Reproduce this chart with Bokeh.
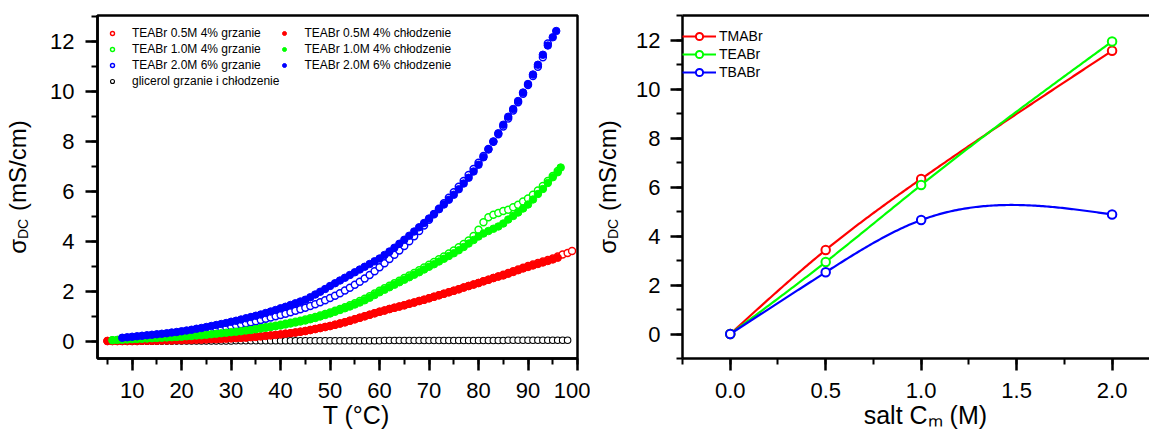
import numpy as np
from bokeh.plotting import figure
from bokeh.layouts import row
from bokeh.models import (Range1d, SingleIntervalTicker, FixedTicker, LinearAxis,
                          Legend, LegendItem, PrintfTickFormatter)
from bokeh.embed import file_html
from bokeh.resources import INLINE

FONT = "Liberation Sans"
RED, GREEN, BLUE, BLACK = "#ff0000", "#00ff00", "#0000ff", "#000000"
EM, EN, QU, SIX = "\u2003", "\u2002", "\u2005", "\u2006"

# ---------------- left panel data: sigma_DC (mS/cm) vs T (C) ----------------
T_GRID = [5, 6, 7, 8, 9, 10, 11, 12, 13, 14, 15, 16, 17, 18, 19, 20, 21, 22, 23, 24,
          25, 26, 27, 28, 29, 30, 31, 32, 33, 34, 35, 36, 37, 38, 39, 40, 41, 42, 43, 44,
          45, 46, 47, 48, 49, 50, 51, 52, 53, 54, 55, 56, 57, 58, 59, 60, 61, 62, 63, 64,
          65, 66, 67, 68, 69, 70, 71, 72, 73, 74, 75, 76, 77, 78, 79, 80, 81, 82, 83, 84,
          85, 86, 87, 88, 89, 90, 91, 92, 93, 94, 95, 96, 97, 98]

# TEABr 0.5M 4%
RED_HEAT_T = T_GRID + [98.9]
RED_HEAT = [0.00, 0.00, 0.00, 0.00, 0.00, 0.00, 0.00,
            0.01, 0.01, 0.01, 0.01, 0.02, 0.02, 0.02, 0.03, 0.03,
            0.04, 0.04, 0.05, 0.05, 0.06, 0.07, 0.07, 0.08, 0.09, 0.10,
            0.11, 0.12, 0.13, 0.15, 0.16, 0.18, 0.20, 0.22, 0.24, 0.26,
            0.29, 0.31, 0.34, 0.37, 0.40, 0.44, 0.48, 0.52, 0.56, 0.60,
            0.65, 0.70, 0.75, 0.81, 0.87, 0.93, 0.99, 1.05, 1.11, 1.17,
            1.22, 1.28, 1.33, 1.38, 1.43, 1.49, 1.54, 1.60, 1.65, 1.71,
            1.77, 1.83, 1.89, 1.95, 2.01, 2.07, 2.14, 2.20, 2.26, 2.32,
            2.39, 2.45, 2.52, 2.58, 2.65, 2.72, 2.79, 2.86, 2.93, 3.00,
            3.06, 3.12, 3.18, 3.24, 3.30, 3.38, 3.46, 3.52, 3.60]
RED_COOL_T = T_GRID[0:92]
RED_COOL = [0.00, 0.00, 0.00, 0.00, 0.00, 0.00, 0.00,
            0.01, 0.01, 0.01, 0.01, 0.02, 0.02, 0.02, 0.03, 0.03,
            0.04, 0.04, 0.05, 0.05, 0.06, 0.07, 0.07, 0.08, 0.09, 0.10,
            0.11, 0.12, 0.13, 0.15, 0.16, 0.18, 0.20, 0.22, 0.24, 0.26,
            0.29, 0.31, 0.34, 0.37, 0.40, 0.44, 0.48, 0.52, 0.56, 0.60,
            0.65, 0.70, 0.75, 0.81, 0.87, 0.93, 0.99, 1.05, 1.11, 1.17,
            1.22, 1.28, 1.33, 1.38, 1.43, 1.49, 1.54, 1.60, 1.65, 1.71,
            1.77, 1.83, 1.89, 1.95, 2.01, 2.07, 2.14, 2.20, 2.26, 2.32,
            2.39, 2.45, 2.52, 2.58, 2.62, 2.69, 2.76, 2.83, 2.90, 2.96,
            3.02, 3.08, 3.14, 3.20, 3.26, 3.33]

# TEABr 1.0M 4%
GREEN_HEAT_T = T_GRID[1:92]
GREEN_HEAT = [0.03, 0.04, 0.05, 0.06, 0.07,
              0.08, 0.09, 0.10, 0.11, 0.12, 0.13, 0.14, 0.15, 0.16, 0.18,
              0.19, 0.21, 0.22, 0.24, 0.26, 0.28, 0.30, 0.32, 0.34, 0.36,
              0.38, 0.41, 0.43, 0.46, 0.49, 0.52, 0.55, 0.58, 0.61, 0.65,
              0.69, 0.73, 0.77, 0.81, 0.86, 0.91, 0.96, 1.02, 1.08, 1.14,
              1.21, 1.28, 1.35, 1.43, 1.51, 1.60, 1.69, 1.79, 1.90, 2.01,
              2.11, 2.21, 2.31, 2.41, 2.52, 2.62, 2.72, 2.83, 2.94, 3.05,
              3.16, 3.27, 3.38, 3.50, 3.62, 3.75, 3.88, 4.02, 4.20, 4.45,
              4.75, 4.95, 5.05, 5.12, 5.20, 5.25, 5.35, 5.45, 5.58, 5.70,
              5.85, 6.02, 6.20, 6.40, 6.60, 6.80]
GREEN_COOL_T = T_GRID[1:92] + [96.6]
GREEN_COOL = [0.03, 0.04, 0.05, 0.06, 0.07,
              0.08, 0.09, 0.10, 0.11, 0.12, 0.13, 0.14, 0.15, 0.16, 0.17,
              0.19, 0.20, 0.22, 0.23, 0.25, 0.27, 0.29, 0.31, 0.33, 0.35,
              0.37, 0.39, 0.42, 0.44, 0.47, 0.50, 0.53, 0.56, 0.59, 0.62,
              0.66, 0.70, 0.74, 0.78, 0.82, 0.87, 0.92, 0.98, 1.04, 1.10,
              1.17, 1.24, 1.31, 1.38, 1.46, 1.54, 1.63, 1.73, 1.84, 1.95,
              2.05, 2.15, 2.25, 2.35, 2.45, 2.55, 2.65, 2.75, 2.86, 2.97,
              3.07, 3.18, 3.29, 3.40, 3.51, 3.63, 3.76, 3.90, 4.04, 4.18,
              4.30, 4.40, 4.49, 4.58, 4.70, 4.86, 5.00, 5.14, 5.30, 5.46,
              5.66, 5.88, 6.08, 6.32, 6.55, 6.75, 6.94]

# TEABr 2.0M 6%
BLUE_HEAT_T = T_GRID[3:90]
BLUE_HEAT = [0.10, 0.11, 0.12,
             0.13, 0.15, 0.16, 0.18, 0.19, 0.21, 0.23, 0.25, 0.27, 0.29,
             0.31, 0.34, 0.37, 0.40, 0.43, 0.46, 0.49, 0.52, 0.56, 0.59,
             0.63, 0.67, 0.71, 0.75, 0.79, 0.84, 0.89, 0.94, 0.99, 1.04,
             1.09, 1.15, 1.21, 1.27, 1.33, 1.40, 1.47, 1.55, 1.63, 1.72,
             1.81, 1.91, 2.02, 2.13, 2.25, 2.37, 2.50, 2.64, 2.79, 2.95,
             3.11, 3.28, 3.45, 3.62, 3.80, 3.99, 4.19, 4.40, 4.62, 4.85,
             5.07, 5.29, 5.51, 5.73, 5.95, 6.17, 6.40, 6.64, 6.88, 7.13,
             7.40, 7.68, 7.97, 8.27, 8.58, 8.90, 9.22, 9.55, 9.89, 10.24,
             10.60, 10.97, 11.35, 11.90]
BLUE_COOL_T = T_GRID[3:91] + [95.7]
BLUE_COOL = [0.13, 0.15, 0.17,
             0.19, 0.21, 0.23, 0.25, 0.27, 0.29, 0.31, 0.34, 0.36, 0.39,
             0.42, 0.45, 0.49, 0.52, 0.56, 0.60, 0.64, 0.68, 0.72, 0.77,
             0.81, 0.86, 0.91, 0.96, 1.01, 1.06, 1.12, 1.18, 1.24, 1.31,
             1.37, 1.44, 1.51, 1.58, 1.65, 1.75, 1.86, 1.97, 2.08, 2.20,
             2.31, 2.42, 2.53, 2.64, 2.75, 2.86, 2.97, 3.08, 3.19, 3.30,
             3.44, 3.58, 3.73, 3.89, 4.05, 4.21, 4.38, 4.55, 4.72, 4.90,
             5.08, 5.27, 5.46, 5.65, 5.85, 6.07, 6.30, 6.53, 6.78, 7.05,
             7.35, 7.66, 7.98, 8.31, 8.65, 8.97, 9.28, 9.60, 9.94, 10.28,
             10.66, 11.05, 11.45, 11.82, 12.15, 12.40]

# glycerol
GLY_T = T_GRID[3:94]
GLY = [0.00, 0.00, 0.00, 0.00, 0.00, 0.00, 0.00, 0.00, 0.00, 0.00,
       0.00, 0.00, 0.00, 0.00, 0.00, 0.00, 0.00, 0.00, 0.00, 0.00,
       0.00, 0.00, 0.00,
       0.01, 0.01, 0.01, 0.01, 0.01, 0.01, 0.01, 0.01, 0.01, 0.01,
       0.01, 0.01, 0.01, 0.01, 0.01, 0.01, 0.01, 0.01, 0.01, 0.01,
       0.01, 0.01, 0.01, 0.01, 0.01, 0.01, 0.01, 0.01, 0.01, 0.01,
       0.02, 0.02, 0.02, 0.02, 0.02, 0.02, 0.02, 0.02, 0.02, 0.02,
       0.02, 0.02, 0.02, 0.02, 0.02, 0.02, 0.02, 0.02, 0.02, 0.02,
       0.02, 0.02, 0.02, 0.02, 0.02,
       0.03, 0.03, 0.03, 0.03, 0.03, 0.03, 0.03, 0.03, 0.03, 0.03,
       0.03, 0.03, 0.03]

LEFT_LABELS = ["TEABr 0.5M 4% grzanie", "TEABr 1.0M 4% grzanie",
               "TEABr 2.0M 6% grzanie", "glicerol grzanie i chłodzenie",
               "TEABr 0.5M 4% chłodzenie", "TEABr 1.0M 4% chłodzenie",
               "TEABr 2.0M 6% chłodzenie"]

# ---------------- right panel data: sigma_DC vs salt concentration ----------------
CONC = [0.0, 0.5, 1.0, 2.0]
TMABR = [0.0, 3.43, 6.33, 11.56]
TEABR = [0.0, 2.94, 6.08, 11.94]
TBABR = [0.0, 2.52, 4.65, 4.88]
RIGHT_LABELS = ["TMABr", "TEABr", "TBABr"]

# axis titles (subscripts are drawn as separate, smaller texts)
Y_TITLE = "σ" + EM + SIX + "(mS/cm)"
Y_SUB = "DC" + EM * 6
X_TITLE_LEFT = EM + EN + "T (°C)"
X_TITLE_RIGHT = EN + QU + "salt Cₘ (M)"


def natural_cubic(xs, ys, n=200):
    xs = np.asarray(xs, float)
    ys = np.asarray(ys, float)
    k = len(xs)
    h = np.diff(xs)
    A = np.zeros((k, k))
    b = np.zeros(k)
    A[0, 0] = A[-1, -1] = 1.0
    for i in range(1, k - 1):
        A[i, i - 1] = h[i - 1]
        A[i, i] = 2 * (h[i - 1] + h[i])
        A[i, i + 1] = h[i]
        b[i] = 6 * ((ys[i + 1] - ys[i]) / h[i] - (ys[i] - ys[i - 1]) / h[i - 1])
    M = np.linalg.solve(A, b)
    xx = np.linspace(xs[0], xs[-1], n)
    idx = np.clip(np.searchsorted(xs, xx) - 1, 0, k - 2)
    x0, x1 = xs[idx], xs[idx + 1]
    hh = x1 - x0
    a = (x1 - xx) / hh
    c = (xx - x0) / hh
    yy = a * ys[idx] + c * ys[idx + 1] + ((a ** 3 - a) * M[idx] + (c ** 3 - c) * M[idx + 1]) * hh ** 2 / 6
    return xx, yy


def style_axis(ax, standoff):
    ax.axis_line_width = 2.5
    ax.axis_line_color = "black"
    ax.major_tick_line_width = 2.5
    ax.major_tick_line_color = "black"
    ax.major_tick_out = 12
    ax.major_tick_in = 0
    ax.minor_tick_line_width = 2
    ax.minor_tick_line_color = "black"
    ax.minor_tick_out = 6
    ax.minor_tick_in = 0
    ax.major_label_text_font = FONT
    ax.major_label_text_font_size = "22px"
    ax.major_label_text_color = "black"
    ax.major_label_standoff = standoff


def title_axis(p, side, text, size, standoff):
    ax = LinearAxis(ticker=FixedTicker(ticks=[]),
                    axis_line_color=None, major_tick_line_color=None, minor_tick_line_color=None,
                    major_tick_out=0, major_tick_in=0, minor_tick_out=0, minor_tick_in=0,
                    major_label_standoff=0, major_label_text_font_size="0px",
                    axis_label=text, axis_label_text_font=FONT, axis_label_text_font_size=size,
                    axis_label_text_font_style="normal", axis_label_text_color="black",
                    axis_label_standoff=standoff)
    p.add_layout(ax, side)
    return ax


# ---------------- left figure ----------------
p1 = figure(width=590, height=432, output_backend="svg", toolbar_location=None,
            x_range=Range1d(3, 100), y_range=Range1d(-0.7, 13.02),
            min_border_left=92, min_border_right=13, min_border_top=15, min_border_bottom=74)
p1.grid.visible = False
p1.outline_line_color = "black"
p1.outline_line_width = 2.5
p1.background_fill_color = "white"
p1.border_fill_color = "white"
p1.xaxis.ticker = SingleIntervalTicker(interval=10, num_minor_ticks=2)
p1.yaxis.ticker = SingleIntervalTicker(interval=2, num_minor_ticks=2)
style_axis(p1.xaxis[0], 12)
style_axis(p1.yaxis[0], 11)

open_kw = dict(marker="circle", size=7, fill_color="white", line_width=1.4)
filled_kw = dict(marker="circle", size=7.5, line_width=1)

r1 = p1.scatter(RED_HEAT_T, RED_HEAT, line_color=RED, **open_kw)
r2 = p1.scatter(GREEN_HEAT_T, GREEN_HEAT, line_color=GREEN, **open_kw)
r3 = p1.scatter(BLUE_HEAT_T, BLUE_HEAT, line_color=BLUE, **open_kw)
r4 = p1.scatter(GLY_T, GLY, marker="circle", size=6.5, fill_color="white", line_color=BLACK, line_width=1.1)
r5 = p1.scatter(RED_COOL_T, RED_COOL, line_color=RED, fill_color=RED, **filled_kw)
r6 = p1.scatter(GREEN_COOL_T, GREEN_COOL, line_color=GREEN, fill_color=GREEN, **filled_kw)
r7 = p1.scatter(BLUE_COOL_T, BLUE_COOL, line_color=BLUE, fill_color=BLUE, **filled_kw)

leg1 = Legend(items=[LegendItem(label=lab, renderers=[r]) for lab, r in
                     zip(LEFT_LABELS, [r1, r2, r3, r4, r5, r6, r7])],
              location="top_left", ncols=2, orientation="vertical",
              label_text_font=FONT, label_text_font_size="12px", label_text_color="black",
              glyph_width=10, glyph_height=16, label_height=16, spacing=0,
              padding=0, margin=10, label_standoff=15,
              border_line_color=None, background_fill_alpha=0)
p1.add_layout(leg1)

title_axis(p1, "left", Y_TITLE, "24px", 17)
title_axis(p1, "left", Y_SUB, "14px", -30)
title_axis(p1, "below", X_TITLE_LEFT, "25px", 0)

# ---------------- right figure ----------------
p2 = figure(width=559, height=432, output_backend="svg", toolbar_location=None,
            x_range=Range1d(-0.25, 2.196), y_range=Range1d(-1, 13),
            min_border_left=84, min_border_right=0, min_border_top=15, min_border_bottom=74)
p2.grid.visible = False
p2.outline_line_color = None
p2.background_fill_color = "white"
p2.border_fill_color = "white"
p2.xaxis.ticker = SingleIntervalTicker(interval=0.5, num_minor_ticks=2)
p2.xaxis.formatter = PrintfTickFormatter(format="%.1f")
p2.yaxis.ticker = SingleIntervalTicker(interval=2, num_minor_ticks=2)
style_axis(p2.xaxis[0], 12)
style_axis(p2.yaxis[0], 10)
top_ax = LinearAxis(ticker=FixedTicker(ticks=[]), axis_line_width=2.5, axis_line_color="black",
                    major_tick_out=0, major_tick_in=0, minor_tick_out=0, minor_tick_in=0,
                    major_label_text_font_size="0px")
p2.add_layout(top_ax, "above")

items2 = []
for lab, vals, col in zip(RIGHT_LABELS, [TMABR, TEABR, TBABR], [RED, GREEN, BLUE]):
    xs, ys = natural_cubic(CONC, vals)
    ln = p2.line(xs, ys, line_color=col, line_width=2.2)
    sc = p2.scatter(CONC, vals, marker="circle", size=8.5, line_color=col,
                    fill_color="white", line_width=2)
    items2.append(LegendItem(label=lab, renderers=[ln, sc]))

leg2 = Legend(items=items2, location="top_left",
              title=" ", title_text_font_size="1px", title_standoff=11,
              label_text_font=FONT, label_text_font_size="14px", label_text_color="black",
              glyph_width=34, glyph_height=18, label_height=18, spacing=0,
              padding=14, margin=0, label_standoff=3,
              border_line_color=None, background_fill_alpha=0)
p2.add_layout(leg2)

title_axis(p2, "left", Y_TITLE, "24px", 13)
title_axis(p2, "left", Y_SUB, "14px", -30)
title_axis(p2, "below", X_TITLE_RIGHT, "25px", 0)

layout = row(p1, p2)
open("out.html", "w").write(file_html(layout, INLINE))
